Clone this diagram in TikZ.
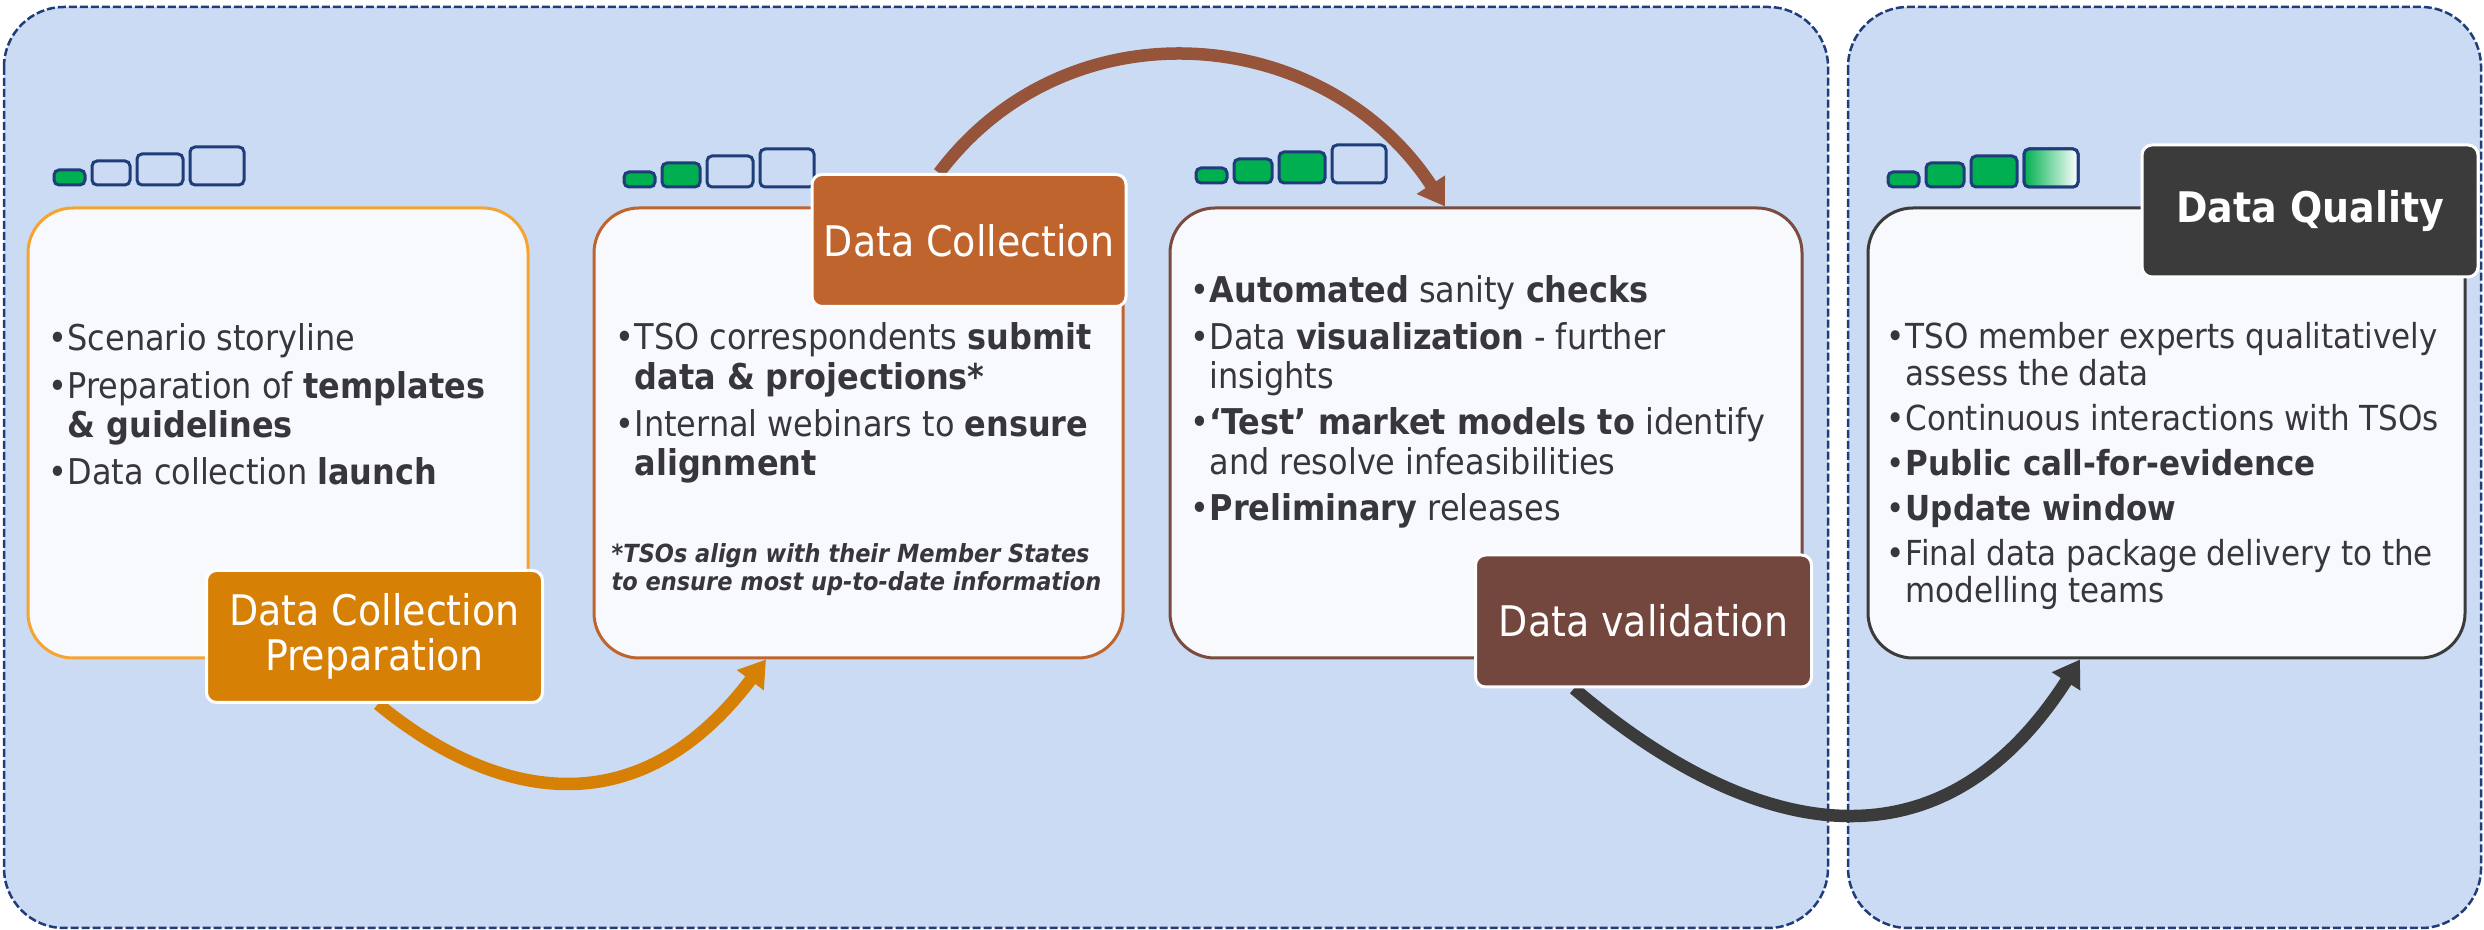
\documentclass[tikz,border=0pt]{standalone}
\usepackage{fontspec}
\setmainfont{DejaVu Sans Condensed}[
  BoldFont={DejaVu Sans Condensed Bold},
  ItalicFont={DejaVu Sans Condensed Oblique},
  BoldItalicFont={DejaVu Sans Condensed Bold Oblique}]
\usepackage{tikz}
\usetikzlibrary{arrows.meta,positioning,calc}
\definecolor{panelblue}{HTML}{CBDBF3}
\definecolor{panelline}{HTML}{1F3D7A}
\definecolor{boxwhite}{HTML}{F8F9FC}
\definecolor{txtgray}{HTML}{36363B}
\definecolor{prepor}{HTML}{D78006}
\definecolor{prepline}{HTML}{F5A432}
\definecolor{collor}{HTML}{BF642D}
\definecolor{validbr}{HTML}{73473D}
\definecolor{validline}{HTML}{7A4B3E}
\definecolor{arcbrown}{HTML}{96543A}
\definecolor{qualdark}{HTML}{3B3B3B}
\definecolor{okgreen}{HTML}{00B050}

\pgfdeclarelayer{back}
\pgfdeclarelayer{flowlayer}
\pgfsetlayers{back,flowlayer,main}

\newcommand{\bul}{\makebox[1.9mm][l]{\textbullet}}
\newcommand{\ind}{\hspace*{1.9mm}}

\begin{document}
\begin{tikzpicture}[
    x=0.1mm, y=-0.1mm,
    panel/.style={draw=panelline, fill=panelblue, line width=0.25mm, dash pattern=on 0.8mm off 0.3mm, rounded corners=6mm},
    box/.style={rectangle, draw=#1, fill=boxwhite, line width=0.3mm, rounded corners=4.5mm, minimum height=45mm},
    stage/.style={rectangle, draw=white, line width=0.3mm, fill=#1, rounded corners=1mm, text=white, minimum width=33.6mm, minimum height=13.2mm, font=\fontsize{12}{13}\selectfont, align=center},
    items/.style={anchor=north west, inner sep=0pt, align=left, text=txtgray, font=\fontsize{10.1}{11.2}\selectfont},
    icon/.style={draw=panelline, line width=0.3mm, rounded corners=0.5mm},
    flow/.style={line width=1.25mm, draw=#1, -{Triangle[length=2.6mm, width=3.2mm, fill=#1]}}
]
\useasboundingbox (0,0) rectangle (2484,930);

% Background panels
\begin{pgfonlayer}{back}
\draw[panel] (4,7) rectangle (1828,928);
\draw[panel] (1848,7) rectangle (2481,928);
\end{pgfonlayer}

% Progress icons
\foreach \gx/\gy/\n in {54/185/1, 624/187/2, 1196/183/3, 1888/187/3}{
  \foreach \w/\h/\dx [count=\i] in {31/15/0, 38/24/38, 46/31/83, 54/38/136}{
    \ifnum\i>\n \def\icol{panelblue}\else\def\icol{okgreen}\fi
    \draw[icon, fill=\icol] (\gx+\dx,\gy) rectangle ++(\w,-\h);
  }
}
\shadedraw[icon, left color=okgreen, right color=white] (2024,187) rectangle ++(54,-38);

% Stage boxes
\node[box=prepline, minimum width=50mm] (prepbox) at (278,433) {};
\node[box=collor, minimum width=52.9mm] (collectbox) at (858.5,433) {};
\node[box=validline, minimum width=63.2mm] (validbox) at (1486,433) {};
\node[box=qualdark, minimum width=59.7mm] (qualitybox) at (2166.5,433) {};

% Box contents
\node[items] (preptext) at (48,323) {\bul Scenario storyline\\[0.8mm]
  \bul Preparation of \textbf{templates}\\\ind\textbf{\& guidelines}\\[0.8mm]
  \bul Data collection \textbf{launch}};
\node[items] (collecttext) at (615,322) {\bul TSO correspondents \textbf{submit}\\\ind\textbf{data \& projections*}\\[0.8mm]
  \bul Internal webinars to \textbf{ensure}\\\ind\textbf{alignment}};
\node[items, font=\fontsize{7.1}{8}\selectfont\bfseries\itshape] (collectnote) at (611,543) {*TSOs align with their Member States\\to ensure most up-to-date information};
\node[items] (validtext) at (1190,275) {\bul\textbf{Automated} sanity \textbf{checks}\\[0.7mm]
  \bul Data \textbf{visualization} - further\\\ind insights\\[0.7mm]
  \bul\textbf{‘Test’ market models to} identify\\\ind and resolve infeasibilities\\[0.7mm]
  \bul\textbf{Preliminary} releases};
\node[items, font=\fontsize{9.8}{10.3}\selectfont] (qualitytext) at (1886,322) {\bul TSO member experts qualitatively\\\ind assess the data\\[0.9mm]
  \bul Continuous interactions with TSOs\\[0.9mm]
  \bul\textbf{Public call-for-evidence}\\[0.9mm]
  \bul\textbf{Update window}\\[0.9mm]
  \bul Final data package delivery to the\\\ind modelling teams};

% Stage labels
\node[stage=prepor] (prep) at (374.5,636.5) {Data Collection\\Preparation};
\node[stage=collor, minimum width=31.4mm] (collect) at (969,240.5) {Data Collection};
\node[stage=validbr] (valid) at (1643.5,621) {Data validation};
\node[stage=qualdark, font=\fontsize{12}{13}\selectfont\bfseries] (quality) at (2310,211) {Data Quality};

% Flow arrows between stages
\begin{pgfonlayer}{flowlayer}
\draw[flow=prepor] ([xshift=0.35mm]prep.south) .. controls (471,781) and (624,847) .. ([xshift=-9.25mm]collectbox.south);
\draw[flow=arcbrown] ([xshift=-3mm]collect.north) .. controls (1069,0) and (1326,24) .. ([xshift=-4.1mm]validbox.north);
\draw[flow=qualdark] ([xshift=-6.95mm]valid.south) .. controls (1730,822) and (1929,895) .. ([xshift=-8.65mm]qualitybox.south);
\end{pgfonlayer}

\end{tikzpicture}
\end{document}
